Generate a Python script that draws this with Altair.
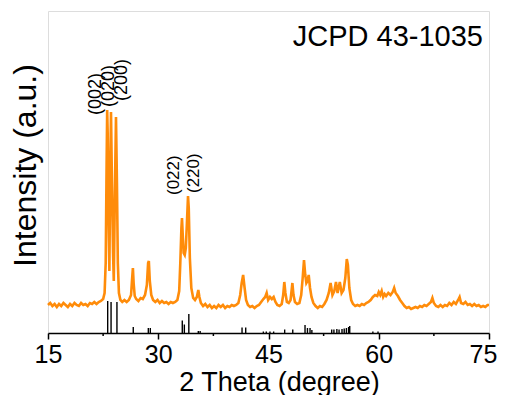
import altair as alt
import pandas as pd

# ---- measured XRD pattern (2θ in degrees, intensity in a.u.) ----
two_theta = [15.0, 15.3, 15.6, 15.9, 16.2, 16.5, 16.8, 17.1, 17.4, 17.7, 18.0, 18.3, 18.6, 18.9,
             19.2, 19.5, 19.8, 20.1, 20.4, 20.7, 21.0, 21.3, 21.6, 21.9, 22.2, 22.5, 22.7, 22.85,
             22.95, 23.05, 23.12, 23.25, 23.35, 23.45, 23.57, 23.7, 23.85, 23.95, 24.1, 24.25, 24.38,
             24.5, 24.65, 24.85, 25.1, 25.4, 25.7, 26.0, 26.3, 26.45, 26.55, 26.65, 26.8, 27.0, 27.3,
             27.6, 27.9, 28.2, 28.45, 28.62, 28.72, 28.85, 29.05, 29.3, 29.6, 29.9, 30.2, 30.5, 30.8,
             31.1, 31.4, 31.7, 32.0, 32.3, 32.6, 32.85, 33.0, 33.15, 33.23, 33.32, 33.45, 33.6, 33.75,
             33.9, 34.05, 34.15, 34.3, 34.5, 34.75, 35.0, 35.25, 35.45, 35.6, 35.8, 36.1, 36.4, 36.7,
             37.0, 37.3, 37.6, 37.9, 38.2, 38.5, 38.8, 39.1, 39.4, 39.7, 40.0, 40.3, 40.6, 40.9,
             41.15, 41.35, 41.55, 41.75, 41.95, 42.2, 42.5, 42.8, 43.1, 43.4, 43.7, 44.0, 44.3,
             44.55, 44.75, 44.95, 45.2, 45.45, 45.7, 45.95, 46.2, 46.5, 46.8, 47.0, 47.15, 47.3,
             47.5, 47.75, 48.0, 48.15, 48.25, 48.4, 48.6, 48.9, 49.2, 49.45, 49.65, 49.83, 50.0,
             50.15, 50.3, 50.47, 50.65, 50.85, 51.1, 51.4, 51.7, 52.0, 52.3, 52.6, 52.9, 53.2,
             53.45, 53.7, 53.95, 54.18, 54.4, 54.7, 54.95, 55.2, 55.45, 55.65, 55.8, 56.0, 56.25,
             56.5, 56.8, 57.1, 57.4, 57.7, 58.0, 58.3, 58.6, 58.9, 59.2, 59.5, 59.8, 60.0, 60.2,
             60.4, 60.6, 60.8, 61.0, 61.3, 61.6, 61.9, 62.1, 62.3, 62.6, 62.9, 63.2, 63.5, 63.8,
             64.1, 64.4, 64.7, 65.0, 65.3, 65.6, 65.9, 66.2, 66.5, 66.8, 67.1, 67.3, 67.5, 67.8,
             68.1, 68.4, 68.7, 69.0, 69.3, 69.6, 69.9, 70.2, 70.5, 70.8, 71.0, 71.2, 71.5, 71.8,
             72.1, 72.4, 72.7, 73.0, 73.3, 73.6, 73.9, 74.2, 74.5, 74.8, 75.0]
intensity = [28, 30, 27, 29, 26, 29, 27, 30, 28, 26, 29, 27, 30, 28,
             27, 30, 28, 29, 27, 30, 29, 31, 29, 31, 32, 34, 40, 70,
             150, 223, 200, 110, 62, 150, 221, 150, 80, 52, 140, 216, 150,
             70, 40, 33, 31, 33, 31, 33, 38, 55, 65, 50, 37, 34, 32,
             35, 34, 38, 48, 70, 72, 52, 38, 33, 31, 33, 30, 32, 30,
             31, 29, 31, 30, 31, 33, 42, 70, 105, 115, 100, 80, 78, 85,
             110, 137, 125, 75, 45, 35, 33, 36, 43, 36, 30, 27, 29, 26,
             28, 25, 27, 25, 28, 26, 28, 25, 27, 26, 28, 27, 28, 30,
             38, 50, 58, 45, 33, 28, 26, 27, 25, 27, 28, 31, 34,
             36, 40, 33, 36, 34, 36, 31, 28, 27, 29, 38, 51, 40,
             31, 30, 33, 43, 50, 38, 31, 29, 30, 38, 55, 73, 58,
             50, 52, 58, 45, 36, 30, 27, 25, 27, 26, 29, 33, 40,
             50, 38, 42, 51, 40, 51, 40, 43, 55, 74, 68, 45, 33,
             29, 27, 28, 27, 29, 28, 30, 31, 33, 36, 38, 37, 41, 38,
             42, 36, 39, 37, 40, 38, 41, 45, 40, 37, 33, 30, 27, 25,
             26, 24, 25, 26, 25, 27, 26, 28, 27, 29, 31, 35, 30, 27,
             26, 28, 26, 28, 27, 30, 28, 31, 29, 33, 36, 30, 29, 31,
             28, 29, 27, 29, 27, 28, 26, 27, 26, 28, 28]

# ---- reference card lines (JCPD 43-1035) ----
ref_pos = [23.12, 23.58, 24.38, 26.6, 28.65, 28.92, 33.27, 33.55, 34.16, 35.45, 35.7,
           41.4, 41.9, 44.3, 44.7, 45.2, 45.7, 47.2, 48.3, 49.97, 50.3, 50.65, 50.9,
           53.6, 53.9, 54.3, 54.6, 55.0, 55.3, 55.6, 55.9, 56.05, 59.2, 59.9]
ref_int = [32, 31, 31, 6, 5, 5, 12.5, 8.5, 19, 2, 2,
           5.5, 5.5, 1.5, 1.5, 1.5, 1.5, 3.5, 3.5, 8, 5, 5, 3,
           3.5, 3.5, 4, 3.5, 4, 4.5, 5, 6, 7, 1.5, 1.5]

# ---- annotations ----
hkl_main_labels = ["(002)", "(020)", "(200)"]
hkl_main_x = [21.5, 23.3, 25.1]
hkl_main_y = [218, 226, 232]
hkl_side_labels = ["(022)", "(220)"]
hkl_side_x = [32.14, 34.86]
hkl_side_y = [138, 140]
card_label = ["JCPD 43-1035"]
card_x = [48.3]
card_y = [287]

major_ticks = [15, 30, 45, 60, 75]
minor_ticks = [22.5, 37.5, 52.5, 67.5]

FONT = "Liberation Sans"
W, H = 441, 322

pattern = pd.DataFrame({"x": two_theta, "y": intensity})
refs = pd.DataFrame({"x": ref_pos, "y": [0] * len(ref_pos), "y2": ref_int})
hkl_main = pd.DataFrame({"x": hkl_main_x, "y": hkl_main_y, "t": hkl_main_labels})
hkl_side = pd.DataFrame({"x": hkl_side_x, "y": hkl_side_y, "t": hkl_side_labels})
card = pd.DataFrame({"x": card_x, "y": card_y, "t": card_label})
minor = pd.DataFrame({"x": minor_ticks})

xs = alt.Scale(domain=[15, 75], nice=False)
ys = alt.Scale(domain=[0, 322], nice=False, zero=False)

x_axis = alt.Axis(values=major_ticks, title="2 Theta (degree)", grid=False,
                  tickSize=6, tickWidth=1.5, tickColor="black",
                  domainColor="black", domainWidth=1.5,
                  labelFont=FONT, labelFontSize=25, labelColor="black", labelPadding=3,
                  labelFlush=False,
                  labelOffset={"condition": {"test": "datum.value == 75", "value": -6}, "value": 0},
                  titleFont=FONT, titleFontSize=27, titleFontWeight="normal", titleColor="black",
                  titleX=231, titleY=57, titleBaseline="alphabetic")
y_axis = alt.Axis(title="Intensity (a.u.)", labels=False, ticks=False, domain=False, grid=False,
                  titleFont=FONT, titleFontSize=32, titleFontWeight="normal", titleColor="black",
                  titleX=-13, titleY=154, titleBaseline="alphabetic", titleAngle=270)

X = alt.X("x:Q", scale=xs, axis=x_axis)
Y = alt.Y("y:Q", scale=ys, axis=y_axis)

line = alt.Chart(pattern).mark_line(color="#FF8C0A", strokeWidth=2.6).encode(x=X, y=Y)

sticks = alt.Chart(refs).mark_rule(color="black", strokeWidth=1.4).encode(
    x=X, y=Y, y2="y2:Q")

minor_rules = alt.Chart(minor).mark_rule(color="black", strokeWidth=1.5).encode(
    x=X, y=alt.value(H), y2=alt.value(H + 3))

hkl_main_text = alt.Chart(hkl_main).mark_text(angle=270, align="left", baseline="middle",
                                              font=FONT, fontSize=18, color="black").encode(
    x=X, y=Y, text="t:N")

hkl_side_text = alt.Chart(hkl_side).mark_text(angle=270, align="left", baseline="middle",
                                              font=FONT, fontSize=17, color="black").encode(
    x=X, y=Y, text="t:N")

card_text = alt.Chart(card).mark_text(align="left", baseline="alphabetic",
                                      font=FONT, fontSize=29, color="black").encode(
    x=X, y=Y, text="t:N")

chart = alt.layer(line, sticks, minor_rules, hkl_main_text, hkl_side_text, card_text).properties(
    width=W, height=H,
    autosize=alt.AutoSizeParams(type="none"),
    padding={"left": 40, "top": 3, "right": 8, "bottom": 62},
).configure_view(stroke="#222", strokeWidth=1.5).configure(background="white")

chart.save("out.html", embed_options={"renderer": "svg", "actions": False})
